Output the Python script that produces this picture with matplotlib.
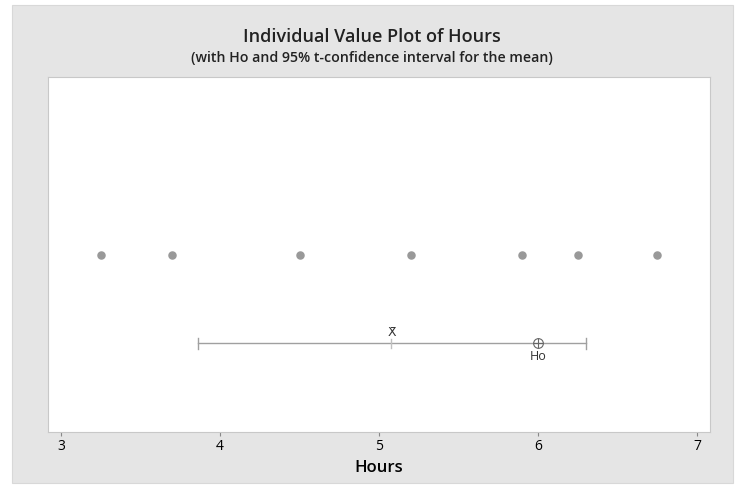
import numpy as np
import matplotlib.pyplot as plt
from matplotlib.patches import Rectangle

hours = [3.25, 3.70, 4.50, 5.20, 5.90, 6.25, 6.75]
ci_low, ci_high = 3.86, 6.30
h0 = 6.0
x_ticks = [3, 4, 5, 6, 7]

mean = np.mean(hours)

W, H = 745, 487
fig = plt.figure(figsize=(W / 100, H / 100), dpi=100)
fig.patch.set_facecolor("white")
fig.patches.append(Rectangle((12 / W, 1 - 483 / H), 721 / W, 478 / H, transform=fig.transFigure,
                             facecolor="#e5e5e5", edgecolor="#d8d8d8", lw=0.8, zorder=-10))

ax = fig.add_axes([48 / W, 1 - 432 / H, 662 / W, 355 / H])
ax.set_facecolor("white")
for s in ax.spines.values():
    s.set_color("#c8c8c8")
    s.set_linewidth(0.8)

# individual values
ax.scatter(hours, [0.5] * len(hours), s=26, color="#999999", zorder=3)

# confidence interval
gray = "#a0a0a0"
ax.plot([ci_low, ci_high], [0.25, 0.25], color=gray, lw=1)
for x in (ci_low, ci_high):
    ax.plot([x, x], [0.235, 0.265], color=gray, lw=1)
ax.plot([mean, mean], [0.238, 0.262], color="#c0c0c0", lw=1)
ax.text(mean, 0.262, "X̄", ha="center", va="bottom", fontsize=9, color="#333333", family="DejaVu Sans")
ax.plot([h0], [0.25], marker="o", ms=7, mfc="none", mec="#666666", mew=0.8, zorder=4)
ax.plot([h0], [0.25], marker="+", ms=7, mec="#666666", mew=0.8, zorder=4)
ax.text(h0, 0.232, "Ho", ha="center", va="top", fontsize=9, color="#333333", family="Open Sans")

ax.set_xlim(2.918, 7.082)
ax.set_ylim(0, 1)
ax.set_yticks([])
ax.set_xticks(x_ticks)
ax.set_xticklabels([str(t) for t in x_ticks], fontsize=10, family="Open Sans")
ax.tick_params(axis="x", length=3, color="#888888", pad=2)
ax.set_xlabel("Hours", fontsize=12, family="Open Sans", weight="semibold", labelpad=4)

fig.text(372 / W, 1 - 37 / H, "Individual Value Plot of Hours", ha="center", va="center",
         fontsize=13, family="Open Sans", weight="semibold", color="#222222")
fig.text(372 / W, 1 - 58 / H, "(with Ho and 95% t-confidence interval for the mean)", ha="center", va="center",
         fontsize=10.2, family="Open Sans", weight="semibold", color="#222222")

fig.savefig("out.png", dpi=100, facecolor=fig.get_facecolor())
